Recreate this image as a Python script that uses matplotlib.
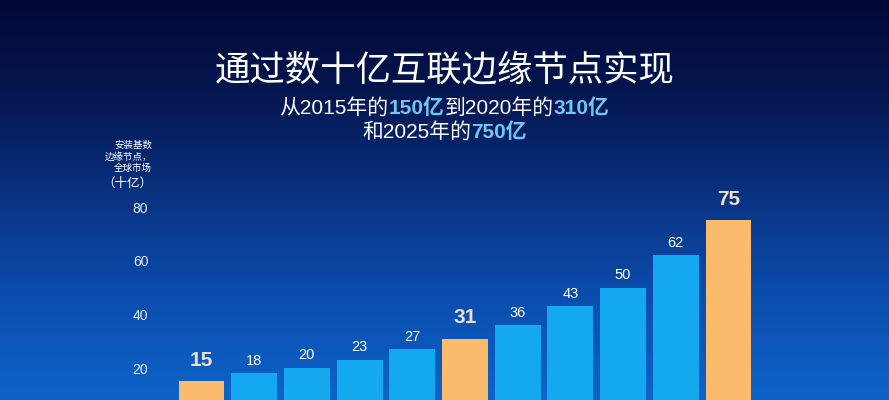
import numpy as np
import matplotlib
matplotlib.use("Agg")
import matplotlib.pyplot as plt
from matplotlib.colors import LinearSegmentedColormap

# Arial-like digits, CJK glyphs fall back to Noto
plt.rcParams['font.family'] = ['Liberation Sans', 'Noto Sans CJK SC', 'DejaVu Sans']

# data
years = [2015, 2016, 2017, 2018, 2019, 2020, 2021, 2022, 2023, 2024, 2025]
values = [15, 18, 20, 23, 27, 31, 36, 43, 50, 62, 75]
highlight = [2015, 2020, 2025]
yticks = [20, 40, 60, 80]

title = "通过数十亿互联边缘节点实现"
line1 = [("从2015年的", False), ("150亿", True), ("到2020年的", False), ("310亿", True)]
line2 = [("和2025年的", False), ("750亿", True)]

orange = "#fbbb6c"
blue = "#14a8f0"
hi_blue = "#72c6f4"

fig = plt.figure(figsize=(8.89, 4.0), dpi=100)

# background gradient
bg = fig.add_axes([0, 0, 1, 1], zorder=0)
cmap = LinearSegmentedColormap.from_list(
    "bg", ["#020836", "#051852", "#0a3484", "#0b4eaf", "#0d64c8"])
grad = np.linspace(0, 1, 256).reshape(-1, 1)
bg.imshow(grad, cmap=cmap, aspect="auto", extent=[0, 1, 0, 1], origin="upper")
bg.axis("off")

# chart axes (bottom of chart is cut off in the picture)
ax = fig.add_axes([158 / 889, 0, 1 - 158 / 889, (400 - 195) / 400], zorder=1)
ax.patch.set_alpha(0)
x = np.arange(len(values))
cols = [orange if y in highlight else blue for y in years]
ax.bar(x, values, width=0.87, color=cols, zorder=2)
ax.set_xlim(-0.825, 13.046)
ax.set_ylim(8.09, 84.5)
ax.set_yticks(yticks)
ax.set_yticklabels([str(t) for t in yticks], color="#e6eefa", fontsize=10)
ax.tick_params(axis="y", length=0, pad=7)
ax.set_xticks([])
for s in ax.spines.values():
    s.set_visible(False)

for xi, v, y in zip(x, values, years):
    if y in highlight:
        ax.annotate(str(v), (xi, v), xytext=(0, 8), textcoords="offset points",
                    ha="center", va="bottom", fontsize=15, fontweight="bold",
                    color="#ece0cc")
    else:
        ax.annotate(str(v), (xi, v), xytext=(0, 4), textcoords="offset points",
                    ha="center", va="bottom", fontsize=10.5, color="white")

# y axis caption
fig.text(152 / 889, 1 - 157 / 400, "安装基数\n边缘节点，\n全球市场", ha="right",
         va="center", fontsize=6.8, color="white", linespacing=1.3,
         style="italic")
fig.text(127 / 889, 1 - 184 / 400, "（十亿）", ha="center", va="center",
         fontsize=9, color="white")

# titles
fig.text(0.5, 1 - 70 / 400, title, ha="center", va="center", fontsize=25.5,
         color="white")

renderer = fig.canvas.get_renderer()


def colored_line(pieces, ycen, size):
    texts = []
    for s, hl in pieces:
        t = fig.text(0, ycen, s, ha="left", va="center", fontsize=size,
                     color=hi_blue if hl else "white",
                     fontweight="bold" if hl else "normal")
        texts.append(t)
    widths = [t.get_window_extent(renderer).width / fig.bbox.width for t in texts]
    x0 = 0.5 - sum(widths) / 2
    for t, w in zip(texts, widths):
        t.set_x(x0)
        x0 += w


colored_line(line1, 1 - 108 / 400, 15)
colored_line(line2, 1 - 132 / 400, 15)

fig.savefig("out.png", dpi=100)
